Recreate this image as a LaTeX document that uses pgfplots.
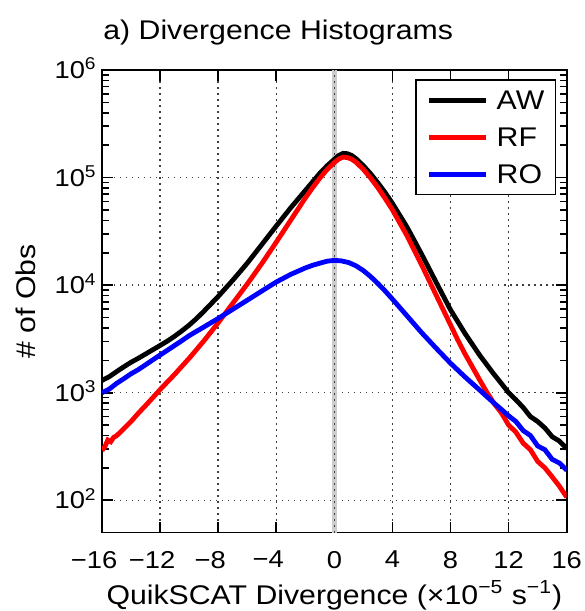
\documentclass[border=0pt]{standalone}
\usepackage{fontspec}
\setmainfont{Liberation Sans}[FakeStretch=1.12]
\usepackage{pgfplots}
\pgfplotsset{compat=1.18}
\usepackage{pgfplotstable}

\pgfplotstableread{
x y
-16 1300
-15.5 1410
-15 1570
-14.5 1740
-14 1920
-13.5 2090
-13 2290
-12.5 2510
-12 2750
-11.5 3020
-11 3350
-10.5 3760
-10 4250
-9.5 4880
-9 5690
-8.5 6680
-8 7850
-7.5 9330
-7 11100
-6.5 13300
-6 16000
-5 23800
-4 35480
-3 52480
-2 75860
-1.5 91200
-1 109600
-0.5 128800
0 147900
0.3 160300
0.6 167900
0.9 166700
1.2 160300
1.5 149600
2 128800
2.5 108400
3 89100
3.5 72400
4 57500
5 34700
6 19500
7 10700
8 5890
9 3550
10 2240
10.5 1820
11 1480
11.5 1220
12 1000
12.5 860
13 730
13.5 600
14 540
14.5 470
15 390
15.5 355
16 302
}\tabAW

\pgfplotstableread{
x y
-16 290
-15.8 316
-15.6 363
-15.4 350
-15.2 385
-15 398
-14.5 462
-14 540
-13.5 645
-13 760
-12.5 900
-12 1070
-11.5 1260
-11 1480
-10.5 1760
-10 2090
-9.5 2510
-9 3020
-8.5 3670
-8 4470
-7.5 5500
-7 6760
-6.5 8320
-6 10230
-5 15850
-4 25100
-3 40300
-2 64600
-1.5 80400
-1 98900
-0.5 118900
0 138000
0.3 148600
0.6 154900
0.9 153500
1.2 147900
1.5 138700
2 118900
2.5 98900
3 80400
3.5 63800
4 50100
5 28800
6 15500
7 8130
8 4270
8.5 3090
9 2290
9.5 1740
10 1320
10.5 1010
11 794
11.5 650
12 500
12.5 430
13 340
13.5 295
14 230
14.5 200
15 165
15.5 135
16 107
}\tabRF

\pgfplotstableread{
x y
-16 1000
-15.5 1080
-15 1220
-14.5 1350
-14 1500
-13.5 1640
-13 1820
-12.5 2020
-12 2240
-11.5 2480
-11 2750
-10.5 3050
-10 3390
-9.5 3720
-9 4070
-8.5 4470
-8 4900
-7 5960
-6 7240
-5 8810
-4 10700
-3 12600
-2 14450
-1.5 15300
-1 16000
-0.5 16700
0 17000
0.5 16800
1 16200
1.5 15100
2 13650
2.5 12000
3 10350
3.5 8810
4 7410
5 5190
6 3630
7 2600
8 1880
9 1400
10 1060
10.5 920
11 800
11.5 700
12 610
12.5 540
13 445
13.5 400
14 320
14.5 295
15 240
15.5 222
16 190
}\tabRO

\begin{document}
\begin{tikzpicture}
\begin{axis}[
  scale only axis,
  width=232.3pt, height=231.3pt,
  xmin=-16, xmax=16, ymin=50, ymax=1e6,
  ymode=log,
  xtick={-16,-12,-8,-4,0,4,8,12,16},
  xticklabels={\llap{−}16,\llap{−}12,\llap{−}8,\llap{−}4,0,4,8,12,16},
  ytick={100,1000,10000,100000,1000000},
  yticklabels={10\textsuperscript{2},10\textsuperscript{3},10\textsuperscript{4},10\textsuperscript{5},10\textsuperscript{6}},
  tick align=inside,
  tick pos=both,
  major tick length=5.5pt, minor tick length=3.5pt,
  tick style={black, line width=0.8pt},
  axis line style={line width=0.8pt},
  xmajorgrids, ymajorgrids,
  grid style={black!75, line width=0.7pt, dash pattern=on 0.7pt off 2.3pt},
  xticklabel style={inner sep=0pt, anchor=north, yshift=-9pt, font=\fontsize{12.2}{14}\selectfont},
  yticklabel style={inner sep=0pt, anchor=base east, xshift=-2.5pt, yshift=-4.3pt, font=\fontsize{12.2}{14}\selectfont},
  title={a) Divergence Histograms},
  every axis title/.style={at={(axis description cs:0,1)}, anchor=base west, yshift=15.3pt, xshift=0.5pt, inner sep=0pt, font=\fontsize{13.5}{16}\selectfont},
  xlabel={QuikSCAT Divergence (×10\textsuperscript{−5} s\textsuperscript{−1})},
  every axis x label/.style={at={(axis description cs:0.5,0)}, anchor=base, yshift=-35.7pt, inner sep=0pt, font=\fontsize{13.5}{16}\selectfont},
  ylabel={\# of Obs},
  every axis y label/.style={at={(axis description cs:0,0.5)}, xshift=-33.5pt, rotate=90, anchor=base, inner sep=0pt, font=\fontsize{13.5}{16}\selectfont},
  legend style={at={(axis description cs:1,1)}, anchor=north east, xshift=-5.3pt, yshift=-4.7pt, draw=black, line width=0.8pt, inner xsep=5.5pt, inner ysep=5.5pt, row sep=9.1pt, column sep=4.2pt, nodes={inner sep=0pt, text depth=0pt, font=\fontsize{13.5}{16}\selectfont}, cells={anchor=west}},
  legend image code/.code={\draw[#1, line width=2.4pt] (0pt,0pt) -- (28.3pt,0pt);},
]
\addplot[gray!40, line width=2.6pt, forget plot] coordinates {(0,50) (0,1000000)};
\addplot[black!75, line width=0.7pt, dash pattern=on 0.7pt off 2.3pt, forget plot] coordinates {(0,50) (0,1000000)};
\addplot[black, line width=2.4pt] table {\tabAW};
\addplot[red, line width=2.4pt] table {\tabRF};
\addplot[blue, line width=2.4pt] table {\tabRO};
\legend{AW,RF,RO}
\coordinate (bl) at (rel axis cs:0,0);
\coordinate (tr) at (rel axis cs:1,1);
\end{axis}
\pgfresetboundingbox
\path[use as bounding box] ([shift={(-51pt,-39.15pt)}]bl) rectangle ([shift={(8.65pt,35pt)}]tr);
\end{tikzpicture}
\end{document}
